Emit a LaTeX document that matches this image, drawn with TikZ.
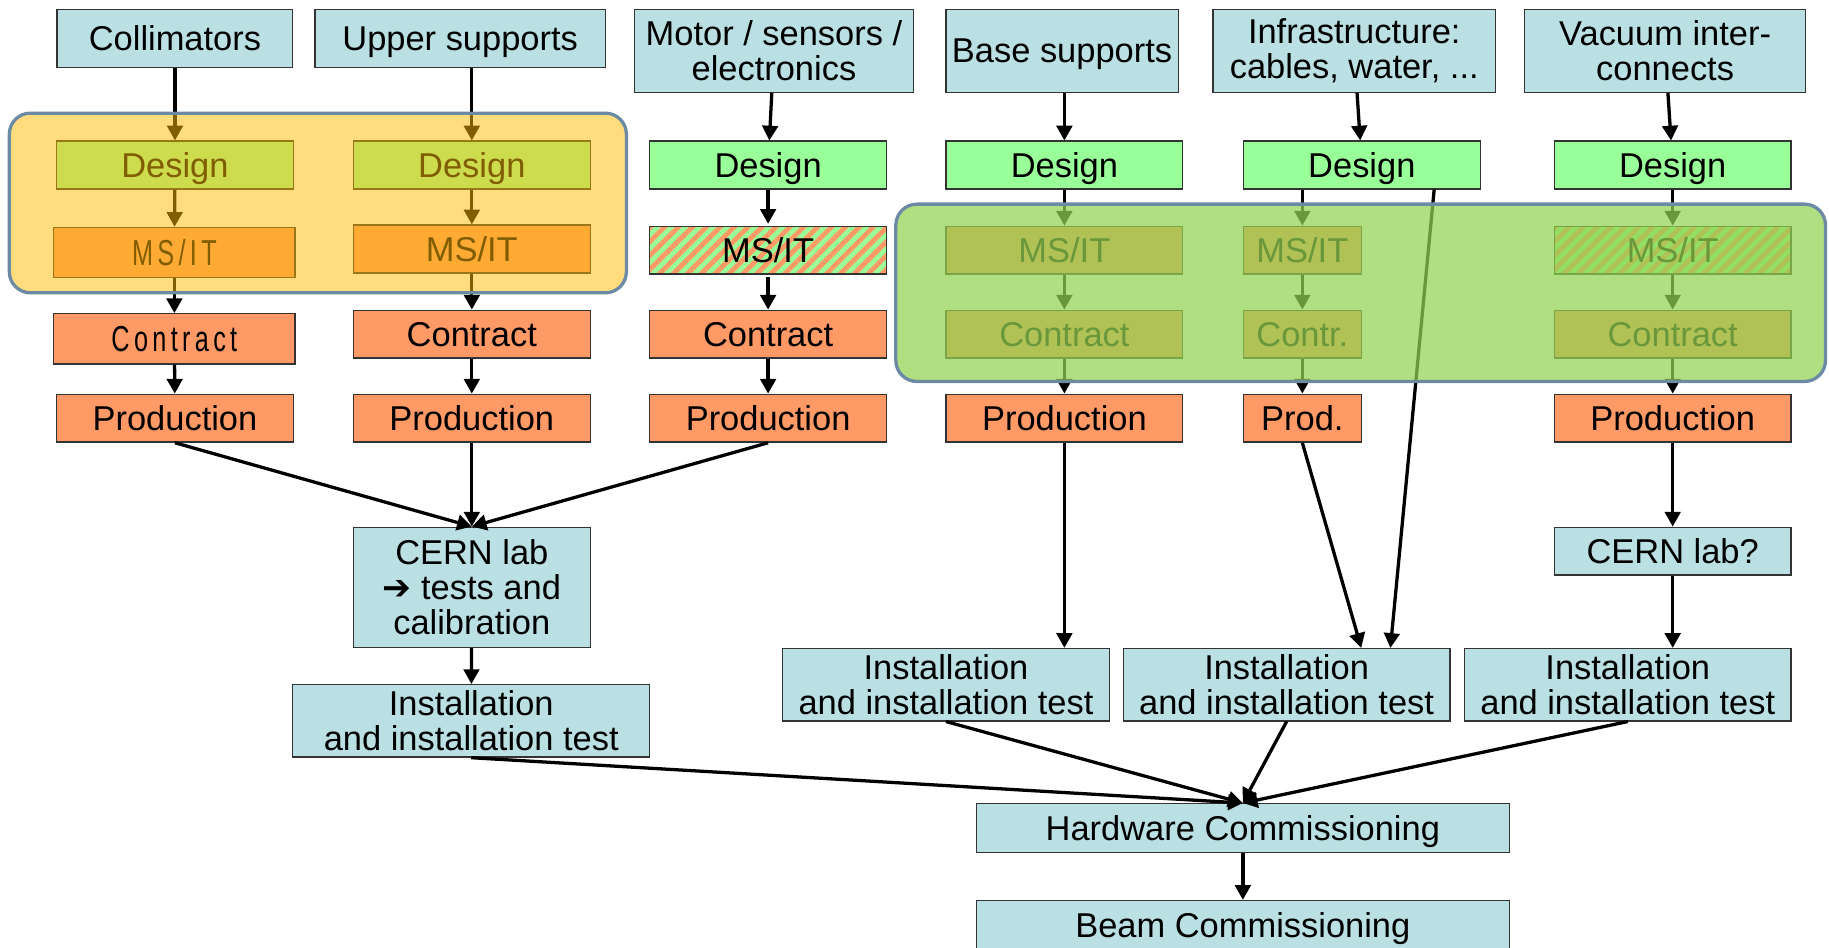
\documentclass[tikz,border=0pt]{standalone}
\usepackage{fontspec}
\setmainfont{Liberation Sans}
\newfontfamily\symfont{DejaVu Sans}
\newfontfamily\spacedfont[LetterSpace=12,FakeStretch=0.7]{Liberation Sans}
\usepackage{xcolor}
\usepackage{tikz}
\usetikzlibrary{arrows.meta,calc,patterns.meta}

\definecolor{srcblue}{HTML}{BBE0E3}
\definecolor{dsggreen}{HTML}{99FF99}
\definecolor{ordorange}{HTML}{FF9966}
\definecolor{grpyellow}{HTML}{FFBB00}
\definecolor{grpgreen}{HTML}{92D250}
\definecolor{grpedge}{HTML}{6C8AA4}

\tikzset{
  stage/.style={draw=black!80, line width=0.8pt, inner sep=0pt, align=center,
    font=\fontsize{21}{21.5}\selectfont},
  one/.style={text depth=0pt},
  src/.style={stage, fill=srcblue},
  dsg/.style={stage, one, fill=dsggreen, minimum width=5.075cm, minimum height=1.025cm},
  ord/.style={stage, one, fill=ordorange, minimum width=5.075cm, minimum height=1.025cm},
  mix/.style={stage, one, minimum width=5.075cm, minimum height=1.025cm,
    preaction={fill=dsggreen}, pattern={Lines[angle=45,distance=6pt,line width=3pt]},
    pattern color=ordorange},
  narrow/.style={minimum width=2.525cm},
  odd/.style={minimum width=5.175cm, minimum height=1.075cm,
    font=\spacedfont\fontsize{22}{22}\selectfont},
  flow/.style={->, line width=2pt},
  grp/.style={draw=grpedge, line width=2pt, rounded corners=0.45cm}
}

\begin{document}
\begin{tikzpicture}[x=0.025cm, y=-0.025cm, >={Triangle[length=9pt,width=9.5pt]}]
    \useasboundingbox (0,0) rectangle (1568,812);

    \node[src, one, minimum width=5.05cm, minimum height=1.25cm] (coll) at (150,33) {Collimators};
    \node[src, one, minimum width=6.225cm, minimum height=1.25cm] (upper) at (394.5,33) {Upper supports};
    \node[src, minimum width=5.975cm, minimum height=1.775cm] (motor) at (663.5,43.5) {Motor / sensors /\\electronics};
    \node[src, one, minimum width=4.975cm, minimum height=1.775cm] (base) at (910.5,43.5) {Base supports};
    \node[src, minimum width=6.05cm, minimum height=1.775cm] (infra) at (1161,43.5) {Infrastructure:\\cables, water, ...};
    \node[src, minimum width=6.025cm, minimum height=1.775cm] (vac) at (1427.5,43.5) {Vacuum inter-\\connects};

    \node[dsg] (des1) at (150,141.5) {Design};
    \node[dsg] (des2) at (404.5,141.5) {Design};
    \node[dsg] (des3) at (658.5,141.5) {Design};
    \node[dsg] (des4) at (912.5,141.5) {Design};
    \node[dsg] (des5) at (1167.5,141.5) {Design};
    \node[dsg] (des6) at (1434,141.5) {Design};

    \node[ord, odd] (ms1) at (149.5,216.5) {MS/IT};
    \node[ord] (ms2) at (404.5,213.5) {MS/IT};
    \node[mix] (ms3) at (658.5,214.5) {MS/IT};
    \node[ord] (ms4) at (912.5,214.5) {MS/IT};
    \node[ord, narrow] (ms5) at (1116.5,214.5) {MS/IT};
    \node[mix] (ms6) at (1434,214.5) {MS/IT};

    \node[ord, odd] (con1) at (149.5,290.5) {Contract};
    \node[ord] (con2) at (404.5,286.5) {Contract};
    \node[ord] (con3) at (658.5,286.5) {Contract};
    \node[ord] (con4) at (912.5,286.5) {Contract};
    \node[ord, narrow] (con5) at (1116.5,286.5) {Contr.};
    \node[ord] (con6) at (1434,286.5) {Contract};

    \node[ord] (prd1) at (150,358.5) {Production};
    \node[ord] (prd2) at (404.5,358.5) {Production};
    \node[ord] (prd3) at (658.5,358.5) {Production};
    \node[ord] (prd4) at (912.5,358.5) {Production};
    \node[ord, narrow] (prd5) at (1116.5,358.5) {Prod.};
    \node[ord] (prd6) at (1434,358.5) {Production};

    \node[src, minimum width=5.075cm, minimum height=2.575cm] (lab) at (404.5,503.5) {CERN lab\\{\symfont ➔} tests and\\calibration};
    \node[src, one, minimum width=5.075cm, minimum height=1.025cm] (lab6) at (1434,472.5) {CERN lab?};

    \node[src, minimum width=7.65cm, minimum height=1.55cm] (ins1) at (404,618) {Installation\\and installation test};
    \node[src, minimum width=7cm, minimum height=1.55cm] (ins4) at (811,587) {Installation\\and installation test};
    \node[src, minimum width=7cm, minimum height=1.55cm] (ins5) at (1103,587) {Installation\\and installation test};
    \node[src, minimum width=7cm, minimum height=1.55cm] (ins6) at (1395.5,587) {Installation\\and installation test};

    \node[src, one, minimum width=11.425cm, minimum height=1.05cm] (hwc) at (1065.5,710) {Hardware Commissioning};
    \node[src, one, minimum width=11.425cm, minimum height=1.05cm] (bmc) at (1065.5,793) {Beam Commissioning};

    \draw[flow] (coll) -- (des1);
    \draw[flow] (upper.south -| des2) -- (des2);
    \draw[flow] (motor) -- (des3);
    \draw[flow] (base.south -| des4) -- (des4);
    \draw[flow] (infra) -- (des5);
    \draw[flow] (vac) -- (des6);

    \draw[flow] (des1) -- (ms1);
    \draw[flow] (ms1) -- (con1);
    \draw[flow] (con1) -- (prd1);
    \draw[flow] (des2) -- (ms2);
    \draw[flow] (ms2) -- (con2);
    \draw[flow] (con2) -- (prd2);
    \draw[flow] (des3) -- (ms3);
    \draw[flow] (ms3) -- (con3);
    \draw[flow] (con3) -- (prd3);
    \draw[flow] (des4) -- (ms4);
    \draw[flow] (ms4) -- (con4);
    \draw[flow] (con4) -- (prd4);
    \draw[flow] (des5.south -| ms5) -- (ms5);
    \draw[flow] (ms5) -- (con5);
    \draw[flow] (con5) -- (prd5);
    \draw[flow] (des6) -- (ms6);
    \draw[flow] (ms6) -- (con6);
    \draw[flow] (con6) -- (prd6);

    \draw[flow] (prd1.south) -- (lab.north);
    \draw[flow] (prd2) -- (lab);
    \draw[flow] (prd3.south) -- (lab.north);
    \draw[flow] (lab) -- (ins1);
    \draw[flow] (prd4) -- (prd4 |- ins4.north);
    \draw[flow] (prd5.south) -- ($(ins5.north)+(64,0)$);
    \draw[flow] ($(des5.south)+(62,0)$) -- ($(ins5.north)+(89,0)$);
    \draw[flow] (prd6) -- (lab6);
    \draw[flow] (lab6) -- (lab6 |- ins6.north);

    \draw[flow] (ins1.south) -- (hwc.north);
    \draw[flow] (ins4.south) -- (hwc.north);
    \draw[flow] (ins5.south) -- (hwc.north);
    \draw[flow] (ins6.south) -- (hwc.north);
    \draw[flow] (hwc) -- (bmc);

    \draw[grp, fill=grpyellow, fill opacity=0.5] (8,97) rectangle (537,251);
    \draw[grp, fill=grpgreen, fill opacity=0.72] (768,175) rectangle (1565,327);
\end{tikzpicture}
\end{document}
